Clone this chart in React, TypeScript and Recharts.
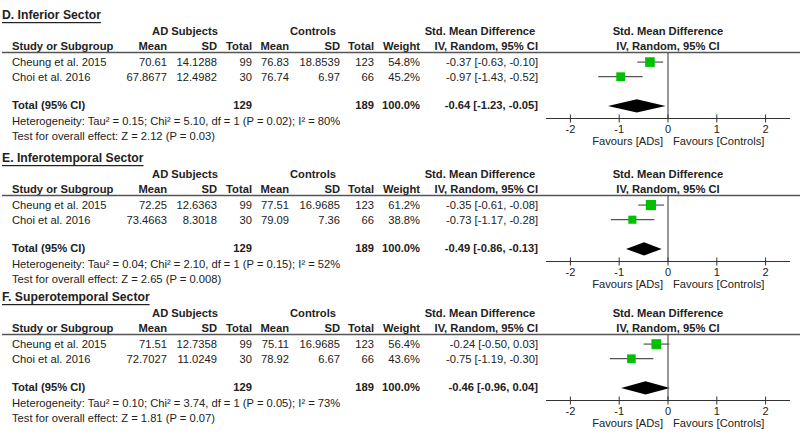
import React from "react";
import {
  ComposedChart,
  Scatter,
  ErrorBar,
  XAxis,
  YAxis,
  ReferenceLine,
  ReferenceArea,
} from "recharts";

const sectors = ["D. Inferior Sector", "E. Inferotemporal Sector", "F. Superotemporal Sector"];
const studies = ["Cheung et al. 2015", "Choi et al. 2016"];

const adMean = [[70.61, 67.8677], [72.25, 73.4663], [71.51, 72.7027]];
const adSD = [[14.1288, 12.4982], [12.6363, 8.3018], [12.7358, 11.0249]];
const adN = [99, 30];
const ctrlMean = [[76.83, 76.74], [77.51, 79.09], [75.11, 78.92]];
const ctrlSD = [[18.8539, 6.97], [16.9685, 7.36], [16.9685, 6.67]];
const ctrlN = [123, 66];
const weights = [[54.8, 45.2], [61.2, 38.8], [56.4, 43.6]];

const smd = [[-0.37, -0.97], [-0.35, -0.73], [-0.24, -0.75]];
const smdLo = [[-0.63, -1.43], [-0.61, -1.17], [-0.5, -1.19]];
const smdHi = [[-0.1, -0.52], [-0.08, -0.28], [0.03, -0.3]];

const totalSmd = [-0.64, -0.49, -0.46];
const totalLo = [-1.23, -0.86, -0.96];
const totalHi = [-0.05, -0.13, 0.04];

const tau2 = ["0.15", "0.04", "0.10"];
const chi2 = ["5.10", "2.10", "3.74"];
const hetP = ["0.02", "0.15", "0.05"];
const i2 = ["80", "52", "73"];
const zVal = ["2.12", "2.65", "1.81"];
const zP = ["0.03", "0.008", "0.07"];

const axisTicks = [-2, -1, 0, 1, 2];

const panelTops = [0, 143, 282];
const FONT = "'Liberation Sans', Arial, sans-serif";
const INK = "#222";
const GREEN = "#00c000";

const fmt2 = (v: number) => v.toFixed(2);
const ci = (e: number, l: number, h: number) => `${fmt2(e)} [${fmt2(l)}, ${fmt2(h)}]`;

const AxisTick = (props: any) => {
  const { x, y, payload } = props;
  return (
    <g>
      <line x1={x} x2={x} y1={y - 4} y2={y + 4} stroke="#333" strokeWidth={1} />
      <text x={x} y={y + 14} textAnchor="middle" fontFamily={FONT} fontSize={11} fill={INK}>
        {payload.value}
      </text>
    </g>
  );
};

const Square = (props: any) => {
  const { cx, cy, payload } = props;
  const s = Math.sqrt(payload.w) * 1.3;
  return <rect x={cx - s / 2} y={cy - s / 2} width={s} height={s} fill={GREEN} />;
};

const Diamond = (props: any) => {
  const { x, y, width, height, frac } = props;
  const mx = x + width * frac;
  const my = y + height / 2;
  return (
    <polygon
      points={`${x},${my} ${mx},${y} ${x + width},${my} ${mx},${y + height}`}
      fill="#000"
    />
  );
};

function TableText({ p }: { p: number }) {
  const rowY = [62, 77];
  const t = (x: number, y: number, s: string, anchor = "end", bold = false) => (
    <text
      x={x}
      y={y}
      textAnchor={anchor as any}
      dominantBaseline="central"
      fontFamily={FONT}
      fontSize={11.2}
      fontWeight={bold ? 700 : 400}
      fill={INK}
    >
      {s}
    </text>
  );
  return (
    <svg
      width={800}
      height={152}
      style={{ position: "absolute", left: 0, top: 0, pointerEvents: "none", overflow: "visible" }}
    >
      <text x={2} y={15} dominantBaseline="central" fontFamily={FONT} fontSize={12.2} fontWeight={700} fill={INK} textDecoration="underline">
        {sectors[p]}
      </text>
      {t(185, 31, "AD Subjects", "middle", true)}
      {t(313, 31, "Controls", "middle", true)}
      {t(480, 31, "Std. Mean Difference", "middle", true)}
      {t(668, 31, "Std. Mean Difference", "middle", true)}
      {t(12, 46, "Study or Subgroup", "start", true)}
      {t(167, 46, "Mean", "end", true)}
      {t(217, 46, "SD", "end", true)}
      {t(252, 46, "Total", "end", true)}
      {t(289, 46, "Mean", "end", true)}
      {t(340, 46, "SD", "end", true)}
      {t(374, 46, "Total", "end", true)}
      {t(420, 46, "Weight", "end", true)}
      {t(538, 46, "IV, Random, 95% CI", "end", true)}
      {t(668, 46, "IV, Random, 95% CI", "middle", true)}
      <line x1={2} x2={800} y1={52.5} y2={52.5} stroke="#555" strokeWidth={1.5} />
      {studies.map((s, i) => (
        <g key={s}>
          {t(12, rowY[i], s, "start")}
          {t(167, rowY[i], String(adMean[p][i]))}
          {t(217, rowY[i], String(adSD[p][i]))}
          {t(252, rowY[i], String(adN[i]))}
          {t(289, rowY[i], String(ctrlMean[p][i]))}
          {t(340, rowY[i], String(ctrlSD[p][i]))}
          {t(374, rowY[i], String(ctrlN[i]))}
          {t(420, rowY[i], `${weights[p][i].toFixed(1)}%`)}
          {t(538, rowY[i], ci(smd[p][i], smdLo[p][i], smdHi[p][i]))}
        </g>
      ))}
      {t(12, 105, "Total (95% CI)", "start", true)}
      {t(252, 105, String(adN.reduce((a, b) => a + b, 0)), "end", true)}
      {t(374, 105, String(ctrlN.reduce((a, b) => a + b, 0)), "end", true)}
      {t(420, 105, `${weights[p].reduce((a, b) => a + b, 0).toFixed(1)}%`, "end", true)}
      {t(538, 105, ci(totalSmd[p], totalLo[p], totalHi[p]), "end", true)}
      {t(12, 121, `Heterogeneity: Tau² = ${tau2[p]}; Chi² = ${chi2[p]}, df = 1 (P = ${hetP[p]}); I² = ${i2[p]}%`, "start")}
      {t(12, 136, `Test for overall effect: Z = ${zVal[p]} (P = ${zP[p]})`, "start")}
      {t(663, 141, "Favours [ADs]", "end")}
      {t(673, 141, "Favours [Controls]", "start")}
    </svg>
  );
}

function Panel({ p }: { p: number }) {
  const points = studies.map((s, i) => ({
    name: s,
    x: smd[p][i],
    y: i + 1,
    w: weights[p][i],
    err: [smd[p][i] - smdLo[p][i], smdHi[p][i] - smd[p][i]],
  }));
  const frac = (totalSmd[p] - totalLo[p]) / (totalHi[p] - totalLo[p]);
  return (
    <div style={{ position: "absolute", left: 0, top: panelTops[p], width: 800, height: 143 }}>
      <ComposedChart width={800} height={143} margin={{ top: 52, right: 10, bottom: 0, left: 546 }}>
        <XAxis
          type="number"
          dataKey="x"
          domain={[-2.5, 2.5]}
          ticks={axisTicks}
          allowDataOverflow
          height={24.5}
          axisLine={{ stroke: "#333", strokeWidth: 1.2 }}
          tickLine={false}
          tickSize={0}
          tickMargin={0}
          tick={<AxisTick />}
        />
        <YAxis type="number" dataKey="y" domain={[0.31, 4.86]} reversed hide width={0} />
        <ReferenceLine x={0} stroke="#555" strokeWidth={1.2} ifOverflow="visible" />
        <Scatter data={points} isAnimationActive={false} shape={<Square />}>
          <ErrorBar dataKey="err" direction="x" width={0} stroke="#555" strokeWidth={1.2} />
        </Scatter>
        <ReferenceArea
          x1={totalLo[p]}
          x2={totalHi[p]}
          y1={3.55}
          y2={4.45}
          ifOverflow="visible"
          shape={(props: any) => <Diamond {...props} frac={frac} />}
        />
      </ComposedChart>
      <TableText p={p} />
    </div>
  );
}

export default function App() {
  return (
    <div style={{ position: "relative", width: 800, height: 437, background: "#fff" }}>
      <style>{"body{margin:0}"}</style>
      {sectors.map((s, p) => (
        <Panel key={s} p={p} />
      ))}
    </div>
  );
}
